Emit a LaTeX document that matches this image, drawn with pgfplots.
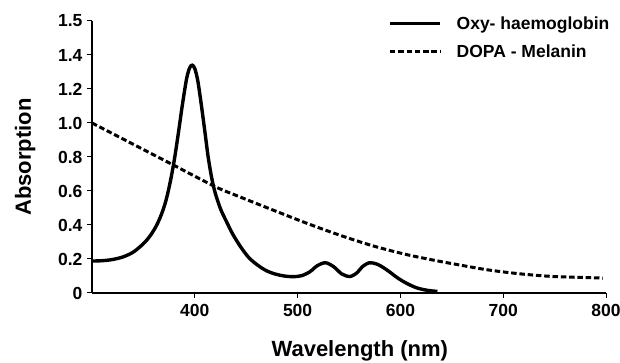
\documentclass[border=0pt]{standalone}
\usepackage{fontspec}
\setmainfont{Liberation Sans}
\usepackage{pgfplots}
\pgfplotsset{compat=1.18}
\begin{document}
\begin{tikzpicture}
\useasboundingbox (-92pt,-70pt) rectangle (528pt,293pt);
\begin{axis}[
  at={(0pt,0pt)}, anchor=south west,
  scale only axis, width=514pt, height=272pt,
  xmin=300, xmax=800, ymin=0, ymax=1.6,
  axis x line*=bottom, axis y line*=left,
  axis line style={line width=1.2pt,-},
  tick align=outside, major tick length=5pt,
  tick style={line width=1pt, black},
  xtick={400,500,600,700,800},
  ytick={0,0.2,0.4,0.6,0.8,1.0,1.2,1.4,1.6},
  yticklabels={0,0.2,0.4,0.6,0.8,1.0,1.2,1.4,1.5},
  /pgf/number format/assume math mode=true,
  ticklabel style={font=\bfseries\fontsize{17.5}{20}\selectfont},
  xticklabel style={yshift=-3pt},
  yticklabel style={xshift=-1pt},
  xlabel={Wavelength (nm)},
  ylabel={Absorption},
  label style={font=\bfseries\fontsize{22}{24}\selectfont},
  xlabel style={at={(axis description cs:0.521,-0.213)}, anchor=center},
  ylabel style={at={(axis description cs:-0.13,0.5)}, anchor=center},
  legend style={at={(axis description cs:0.576,1.025)}, anchor=north west, draw=none, fill=none,
    font=\bfseries\fontsize{17.5}{19}\selectfont, row sep=10pt, inner sep=0pt,
    /tikz/every odd column/.append style={column sep=13pt}},
  legend cell align=left,
  legend image code/.code={\draw[#1] (0pt,0pt) -- (50pt,0pt);},
]
\addplot[black, line width=3.4pt, smooth, tension=0.5] coordinates {
(300,0.188) (310,0.19) (320,0.197) (330,0.212) (340,0.24) (350,0.29) (357,0.34)
(363,0.40) (368,0.47) (372,0.545) (376,0.65) (380,0.78) (384,0.94) (388,1.11)
(392,1.26) (395,1.325) (397.5,1.34) (400,1.32) (403,1.245) (406.5,1.10) (410,0.94)
(413,0.80) (416.5,0.675) (420,0.585) (425,0.495) (430,0.43) (437,0.345) (445,0.268)
(453,0.205) (462,0.16) (470,0.13) (478,0.112) (487,0.10) (496,0.096)
(504,0.102) (512,0.125) (519,0.16) (527,0.178) (535,0.155) (543,0.112) (551,0.097)
(558,0.12) (563,0.155) (570,0.178) (578,0.168) (587,0.135) (597,0.09) (606,0.057)
(616,0.03) (626,0.016) (636,0.009)
};
\addlegendentry{Oxy- haemoglobin}
\addplot[black, line width=3pt, dash pattern=on 5.5pt off 2.8pt, smooth, tension=0.5] coordinates {
(300,1.0) (340,0.875) (380,0.75) (420,0.625) (444,0.565) (476,0.488) (509,0.41)
(541,0.34) (574,0.276) (606,0.226) (635,0.19) (651,0.172) (684,0.137) (716,0.113)
(749,0.097) (797,0.088)
};
\addlegendentry{DOPA - Melanin}
\end{axis}
\end{tikzpicture}
\end{document}
